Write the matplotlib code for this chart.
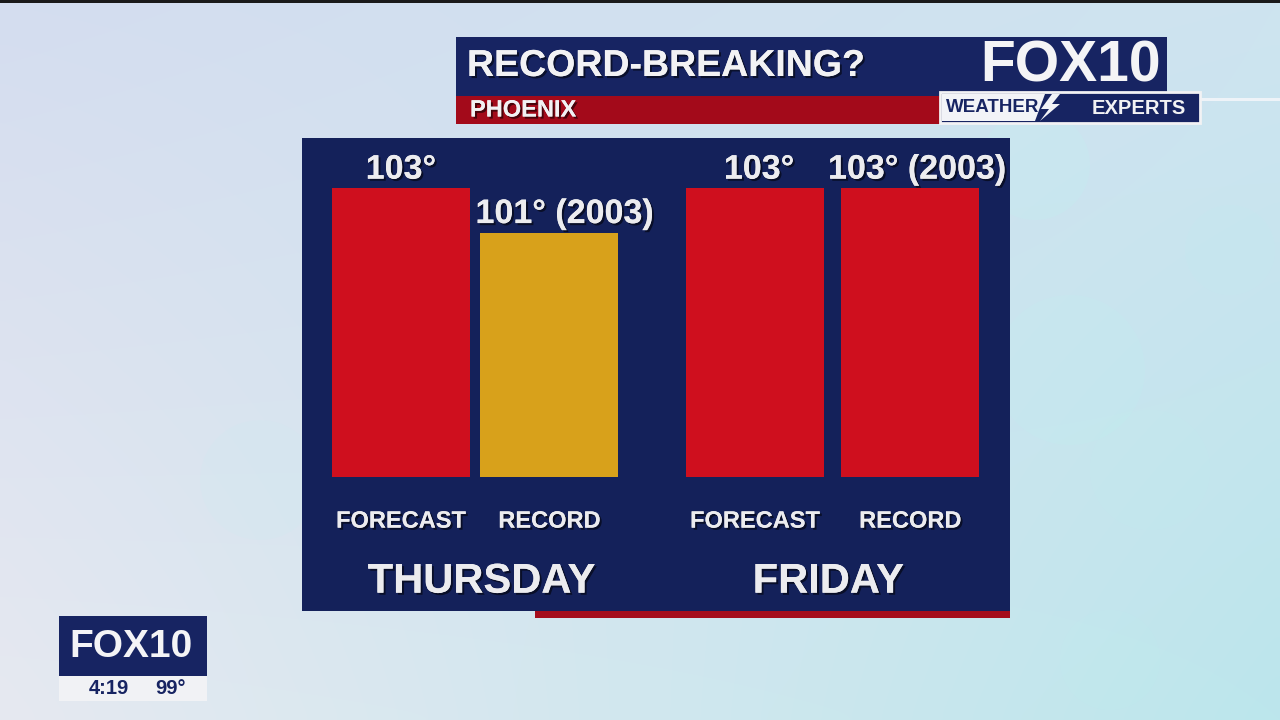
import numpy as np
import matplotlib
matplotlib.use("Agg")
import matplotlib.pyplot as plt
from matplotlib import font_manager
from matplotlib.patches import Rectangle, Polygon, Circle
import matplotlib.patheffects as pe
import matplotlib.transforms as mtransforms

# ---- data ----
title = "RECORD-BREAKING?"
location = "PHOENIX"
days = ["THURSDAY", "FRIDAY"]
bar_kinds = ["FORECAST", "RECORD", "FORECAST", "RECORD"]
bar_values = [103, 101, 103, 103]
bar_labels = ["103°", "101° (2003)", "103°", "103° (2003)"]
bar_colors = ["#cf0f1e", "#d8a11b", "#cf0f1e", "#cf0f1e"]
bar_pos = [0, 0.975, 2.325, 3.345]
baseline = 90
clock_text = "4:19"
temp_text = "99°"

# label nudges (styling only, in points)
label_dx = [0, 11, 3, 5]
day_dx = [0.04, -0.03]

names = {f.name for f in font_manager.fontManager.ttflist}
FONT = "Liberation Sans" if "Liberation Sans" in names else "DejaVu Sans"

W, H = 1280, 720
fig = plt.figure(figsize=(12.8, 7.2), dpi=100)

def fr(x, y):
    return x / W, 1 - y / H

def rect_px(x0, y0, x1, y1, **kw):
    r = Rectangle((x0 / W, 1 - y1 / H), (x1 - x0) / W, (y1 - y0) / H,
                  transform=fig.transFigure, **kw)
    fig.add_artist(r)
    return r

# background gradient
bg = fig.add_axes([0, 0, 1, 1])
bg.set_axis_off()
tl = np.array([212, 221, 239]) / 255
tr = np.array([206, 228, 240]) / 255
bl = np.array([230, 233, 241]) / 255
br = np.array([188, 230, 236]) / 255
yy, xx = np.mgrid[0:1:72j, 0:1:128j]
img = ((1 - xx)[..., None] * (1 - yy)[..., None] * tl + xx[..., None] * (1 - yy)[..., None] * tr
       + (1 - xx)[..., None] * yy[..., None] * bl + xx[..., None] * yy[..., None] * br)
bg.imshow(img, extent=[0, W, H, 0], aspect="auto", interpolation="bicubic")
bg.set_xlim(0, W)
bg.set_ylim(H, 0)
for cx, cy, r, a in [(1035, 165, 55, 0.2), (1070, 370, 75, 0.16), (1150, 470, 60, 0.12),
                     (1230, 250, 45, 0.12), (260, 480, 60, 0.08), (1110, 660, 50, 0.10)]:
    bg.add_patch(Circle((cx, cy), r, color="#bff3f2", alpha=a, lw=0))
bg.add_patch(Rectangle((0, 0), W, 3, color="#1a1a1a", lw=0))

shadow = [pe.withSimplePatchShadow(offset=(1.5, -1.5), shadow_rgbFace="#000000", alpha=0.55), pe.Normal()]
TXT = "#ececef"

# main panel
rect_px(535, 605, 1010, 618, color="#a50d1c", lw=0, zorder=1)
ax = fig.add_axes([302 / W, 1 - 611 / H, 708 / W, 473 / H], zorder=2)
ax.set_facecolor("#14215a")
for s in ax.spines.values():
    s.set_visible(False)
ax.set_xticks([])
ax.set_yticks([])
ax.set_xlim(-0.65, 4.0)
ax.set_ylim(83.96, 105.27)

heights = [v - baseline for v in bar_values]
ax.bar(bar_pos, heights, bottom=baseline, width=0.906, color=bar_colors, lw=0)
for x, v, lab, dx in zip(bar_pos, bar_values, bar_labels, label_dx):
    ax.annotate(lab, (x, v), xytext=(dx, 7), textcoords="offset points", ha="center",
                va="baseline", fontsize=24.5, fontweight="bold", family=FONT, color=TXT,
                path_effects=shadow)
blend = mtransforms.blended_transform_factory(ax.transData, ax.transAxes)
for x, k in zip(bar_pos, bar_kinds):
    ax.text(x, 0.19, k, transform=blend, ha="center", va="center", fontsize=17,
            fontweight="bold", family=FONT, color=TXT, path_effects=shadow)
for i, d in enumerate(days):
    cx = (bar_pos[2 * i] + bar_pos[2 * i + 1]) / 2 + day_dx[i]
    ax.text(cx, 0.062, d, transform=blend, ha="center", va="center", fontsize=30,
            fontweight="bold", family=FONT, color=TXT, path_effects=shadow)

# title banner
rect_px(456, 37, 1167, 96, color="#172462", lw=0, zorder=3)
rect_px(456, 96, 945, 124, color="#a30a1a", lw=0, zorder=3)
fig.text(*fr(467, 66), title, ha="left", va="center", fontsize=27, fontweight="bold",
         family=FONT, color="#f2f2f4", zorder=5, path_effects=shadow)
fig.text(*fr(470, 110), location, ha="left", va="center", fontsize=17, fontweight="bold",
         family=FONT, color="#f2f2f4", zorder=5, path_effects=shadow)
fig.text(*fr(1071, 67), "FOX10", ha="center", va="center", fontsize=41, fontweight="bold",
         family=FONT, color="#f4f4f6", zorder=5)
# weather experts box
rect_px(1200, 98, 1280, 101, color="#eef3f8", lw=0, zorder=2)
rect_px(940, 92, 1200, 123, facecolor="#172462", edgecolor="#f2f2f4", lw=2, zorder=4)
fig.add_artist(Polygon([fr(942, 94), fr(1045, 94), fr(1035, 121), fr(942, 121)], closed=True,
                       facecolor="#f2f3f7", lw=0, transform=fig.transFigure, zorder=5))
fig.add_artist(Polygon([fr(1052, 94), fr(1041, 109), fr(1049, 109), fr(1040, 121),
                        fr(1060, 104), fr(1052, 104), fr(1060, 94)], closed=True,
                       facecolor="#f2f3f7", lw=0, transform=fig.transFigure, zorder=5))
fig.text(*fr(993, 108), "WEATHER", ha="center", va="center", fontsize=13.5, fontweight="bold",
         family=FONT, color="#172462", zorder=6)
fig.text(*fr(1139, 108), "EXPERTS", ha="center", va="center", fontsize=14.5, fontweight="bold",
         family=FONT, color="#f2f2f4", zorder=6)

# bottom-left bug
rect_px(59, 616, 207, 676, color="#172462", lw=0, zorder=3)
rect_px(59, 676, 207, 701, color="#f1f2f5", lw=0, zorder=3)
fig.text(*fr(131, 647), "FOX10", ha="center", va="center", fontsize=28, fontweight="bold",
         family=FONT, color="#f4f4f6", zorder=5)
fig.text(*fr(109, 689), clock_text, ha="center", va="center", fontsize=14.5, fontweight="bold",
         family=FONT, color="#172462", zorder=5)
fig.text(*fr(171, 689), temp_text, ha="center", va="center", fontsize=14.5, fontweight="bold",
         family=FONT, color="#172462", zorder=5)

fig.savefig("out.png", dpi=100)
